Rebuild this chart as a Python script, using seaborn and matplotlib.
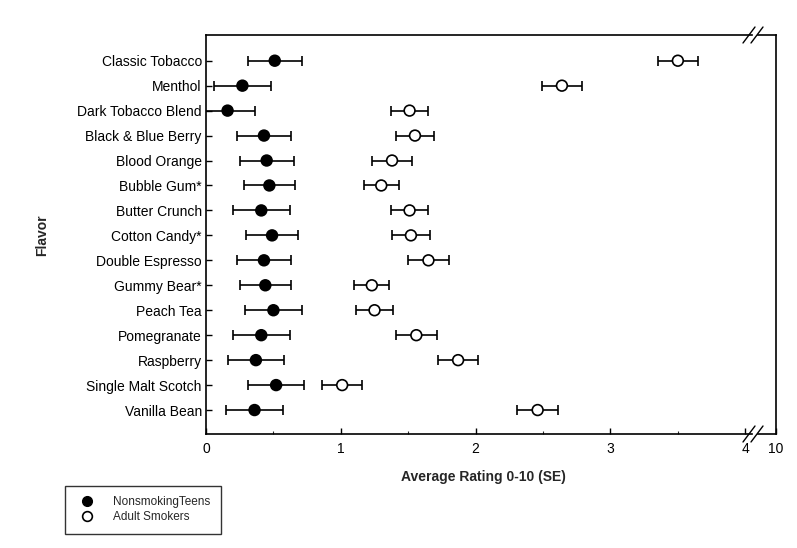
import numpy as np
import pandas as pd
import matplotlib
matplotlib.use("Agg")
import matplotlib.pyplot as plt
import seaborn as sns


# ---------------------------------------------- Data -----------------------------------------------

flavors = ["Classic Tobacco", "Menthol", "Dark Tobacco Blend", "Black & Blue Berry",
           "Blood Orange", "Bubble Gum*", "Butter Crunch", "Cotton Candy*",
           "Double Espresso", "Gummy Bear*", "Peach Tea", "Pomegranate",
           "Raspberry", "Single Malt Scotch", "Vanilla Bean"]

teens_mean = [0.51, 0.27, 0.16, 0.43, 0.45, 0.47, 0.41, 0.49, 0.43, 0.44, 0.50, 0.41, 0.37, 0.52, 0.36]
teens_se = [0.20, 0.21, 0.20, 0.20, 0.20, 0.19, 0.21, 0.19, 0.20, 0.19, 0.21, 0.21, 0.21, 0.21, 0.21]

adult_mean = [3.50, 2.64, 1.51, 1.55, 1.38, 1.30, 1.51, 1.52, 1.65, 1.23, 1.25, 1.56, 1.87, 1.01, 2.46]
adult_se = [0.15, 0.15, 0.14, 0.14, 0.15, 0.13, 0.14, 0.14, 0.15, 0.13, 0.14, 0.15, 0.15, 0.15, 0.15]

groups = ["NonsmokingTeens", "Adult Smokers"]

main_ticks = [0, 1, 2, 3, 4]
far_ticks = [10]


# ---------------------------------------------- Figure -----------------------------------------------

sns.set_style("ticks")
plt.rcParams['font.family'] = ['Liberation Sans', 'DejaVu Sans']

fig = plt.figure(figsize=(7.97, 5.48), dpi=100)

# main panel 0..4 and a narrow panel around 10 (broken axis)
ax = fig.add_axes([206 / 797, 1 - 434 / 548, (752 - 206) / 797, (434 - 35) / 548])
ax2 = fig.add_axes([758 / 797, 1 - 434 / 548, (776 - 758) / 797, (434 - 35) / 548])

ypos = np.arange(len(flavors))
df = pd.DataFrame({
    "pos": np.concatenate([ypos, ypos]),
    "rating": teens_mean + adult_mean,
    "se": teens_se + adult_se,
    "group": [groups[0]] * len(flavors) + [groups[1]] * len(flavors),
})

# error bars
for g in groups:
    sub = df[df["group"] == g]
    ax.errorbar(sub["rating"], sub["pos"], xerr=sub["se"], fmt="none",
                ecolor="black", elinewidth=1.2, capsize=3.8, capthick=1.2, zorder=2)

# markers
sns.scatterplot(data=df, x="rating", y="pos", hue="group", style="group",
                palette={groups[0]: "black", groups[1]: "white"},
                markers={groups[0]: "o", groups[1]: "o"},
                edgecolor="black", linewidth=1.2, s=60, ax=ax, zorder=3, legend=False)

ax.set_xlim(0, 4.05)
ax.set_ylim(14.96, -1.03)
ax.set_xticks(main_ticks)
ax.set_xticks([0.5, 1.5, 2.5, 3.5], minor=True)
ax.set_yticks(ypos)
ax.set_yticklabels(flavors, fontsize=10)
ax.set_xticklabels([str(t) for t in main_ticks], fontsize=10)
ax.set_xlabel("")
ax.set_ylabel("")
ax.tick_params(axis="both", direction="in", length=4, width=1, colors="black")
ax.tick_params(axis="x", which="minor", direction="in", length=2.5, width=0.8)
ax.tick_params(axis="y", pad=3)
ax.tick_params(axis="x", pad=6)
ax.spines["right"].set_visible(False)
for s in ["left", "top", "bottom"]:
    ax.spines[s].set_linewidth(1.2)
    ax.spines[s].set_color("black")

ax2.set_xlim(9.9, 10.0)
ax2.set_ylim(ax.get_ylim())
ax2.set_xticks(far_ticks)
ax2.set_xticklabels([str(t) for t in far_ticks], fontsize=10)
ax2.set_yticks([])
ax2.tick_params(axis="x", direction="in", length=4, width=1, pad=6, colors="black")
ax2.spines["left"].set_visible(False)
for s in ["right", "top", "bottom"]:
    ax2.spines[s].set_linewidth(1.2)
    ax2.spines[s].set_color("black")
ax2.patch.set_alpha(0)

# break marks
for yb in [35, 434]:
    for xb in [749, 757]:
        fig.add_artist(plt.Line2D([(xb - 6) / 797, (xb + 6) / 797],
                                  [1 - (yb + 8) / 548, 1 - (yb - 8) / 548],
                                  color="black", lw=1))

# axis titles
fig.text(483 / 797, 1 - 477 / 548, "Average Rating 0-10 (SE)", ha="center", va="center",
         fontsize=10, fontweight="bold")
fig.text(42 / 797, 1 - 235 / 548, "Flavor", ha="center", va="center",
         rotation=90, fontsize=10, fontweight="bold")

# legend
handles = [
    plt.Line2D([], [], marker="o", ls="none", markerfacecolor="black",
               markeredgecolor="black", markersize=7),
    plt.Line2D([], [], marker="o", ls="none", markerfacecolor="white",
               markeredgecolor="black", markersize=7, markeredgewidth=1.2),
]
leg = fig.legend(handles, groups, loc="lower left", bbox_to_anchor=(65 / 797, 14 / 548),
                 fontsize=8.5, frameon=True, fancybox=False, edgecolor="black",
                 borderpad=0.9, handletextpad=1.2, labelspacing=0.25, borderaxespad=0)
leg.get_frame().set_linewidth(1)

fig.savefig("out.png", dpi=100)
